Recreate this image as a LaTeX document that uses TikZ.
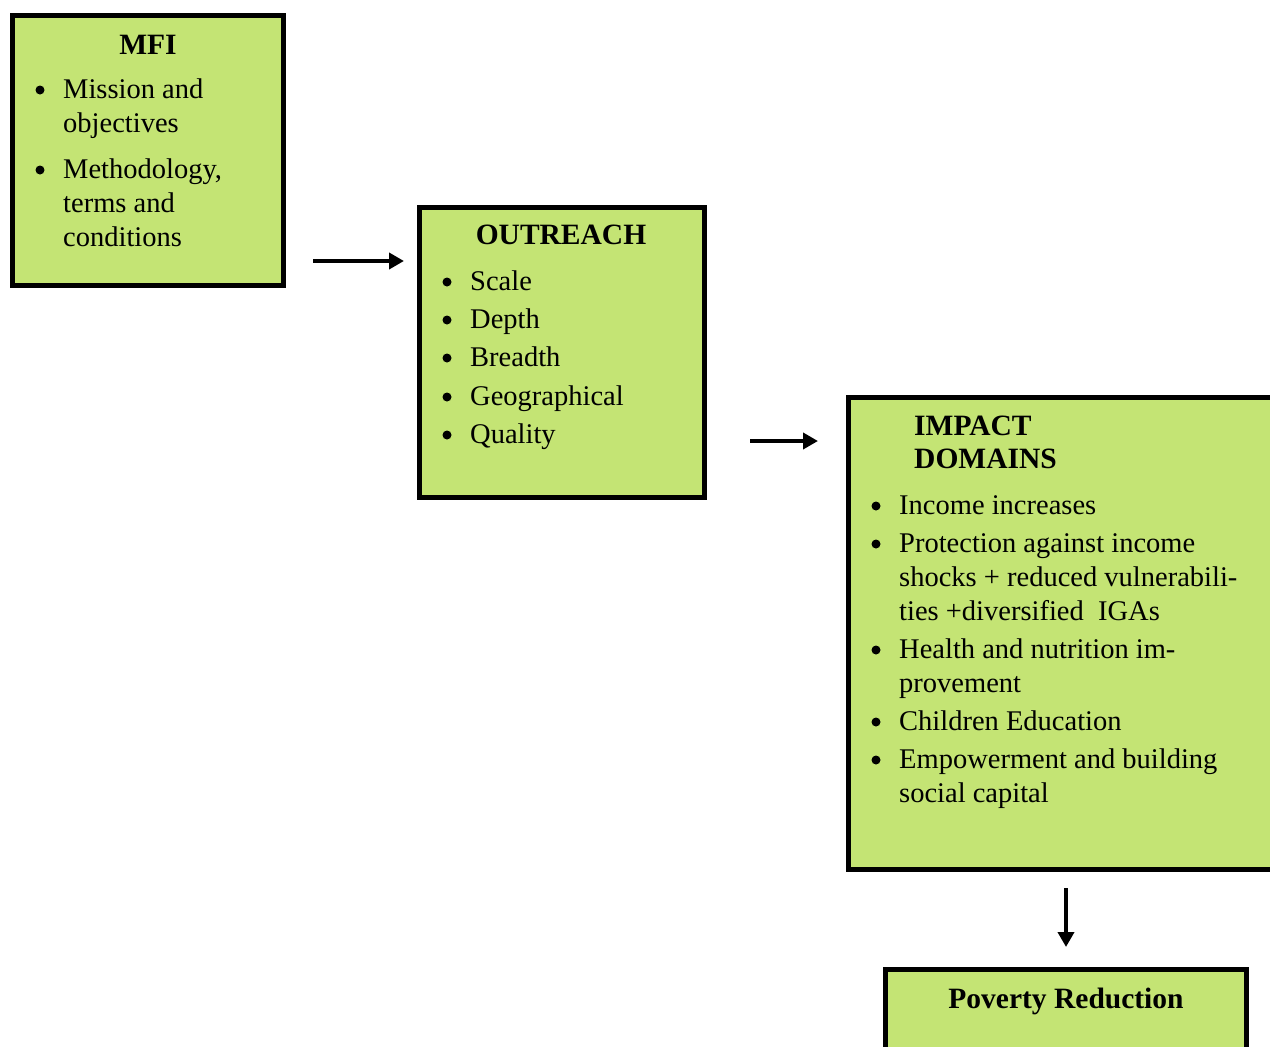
\documentclass[tikz,border=0pt]{standalone}
\usepackage{fontspec}
\setmainfont{Liberation Serif}
\usetikzlibrary{arrows.meta}
\definecolor{boxgreen}{RGB}{196,228,116}
\begin{document}
\begin{tikzpicture}[x=1pt,y=-1pt,
  box/.style={draw=black, line width=5pt, fill=boxgreen, inner sep=0pt},
  txt/.style={font=\fontsize{28.5}{34}\selectfont, inner sep=0pt, anchor=base west},
  ttl/.style={font=\fontsize{29.5}{34}\selectfont\bfseries, inner sep=0pt},
  bul/.style={circle, fill=black, inner sep=0pt, minimum size=9pt},
  arr/.style={line width=4.5pt, -{Triangle[length=15pt,width=16pt]}}]
\useasboundingbox (0,0) rectangle (1270,1047);
\clip (0,0) rectangle (1270,1047);

% boxes
\node[box, minimum width=271, minimum height=270] (mfi) at (147.5,150) {};
\node[box, minimum width=285, minimum height=290] (out) at (561.5,352) {};
\node[box, minimum width=442, minimum height=472] (imp) at (1069,633) {};
\node[box, minimum width=361, minimum height=131] (pov) at (1065.5,1034.5) {};

% titles
\node[ttl, anchor=base] (mfit) at (148,54) {MFI};
\node[ttl, anchor=base] (outt) at (561,244) {OUTREACH};
\node[ttl, anchor=base west] (impt1) at (914,435) {IMPACT};
\node[ttl, anchor=base west] (impt2) at (914,468) {DOMAINS};
\node[ttl, anchor=base] (povt) at (1066,1008) {Poverty Reduction};

% MFI items
\foreach \yy [count=\i] in {98,178} {\node[bul] (mb\i) at (40,\yy-8) {};}
\foreach \txt/\yy [count=\i] in {Mission and/98, objectives/132, {Methodology,}/178, terms and/212, conditions/246}
  {\node[txt] (ml\i) at (63,\yy) {\txt};}

% OUTREACH items
\foreach \txt/\yy [count=\i] in {Scale/290, Depth/328, Breadth/366, Geographical/405, Quality/443}
  {\node[bul] (ob\i) at (447,\yy-8) {};
   \node[txt] (ol\i) at (470,\yy) {\txt};}

% IMPACT items
\foreach \yy [count=\i] in {514,552,658,730,768} {\node[bul] (ib\i) at (876,\yy-8) {};}
\foreach \txt/\yy [count=\i] in {Income increases/514, Protection against income/552,
    shocks + reduced vulnerabili-/586, ties +diversified\ \ IGAs/620,
    Health and nutrition im-/658, provement/692, Children Education/730,
    Empowerment and building/768, social capital/802}
  {\node[txt] (il\i) at (899,\yy) {\txt};}

% arrows
\coordinate (a1s) at (313,261);
\coordinate (a1e) at (404,261);
\coordinate (a2s) at (750,441);
\coordinate (a2e) at (818,441);
\coordinate (a3s) at (1066,888);
\coordinate (a3e) at (1066,947);
\draw[arr] (a1s) -- (a1e);
\draw[arr] (a2s) -- (a2e);
\draw[arr] (a3s) -- (a3e);
\end{tikzpicture}
\end{document}
